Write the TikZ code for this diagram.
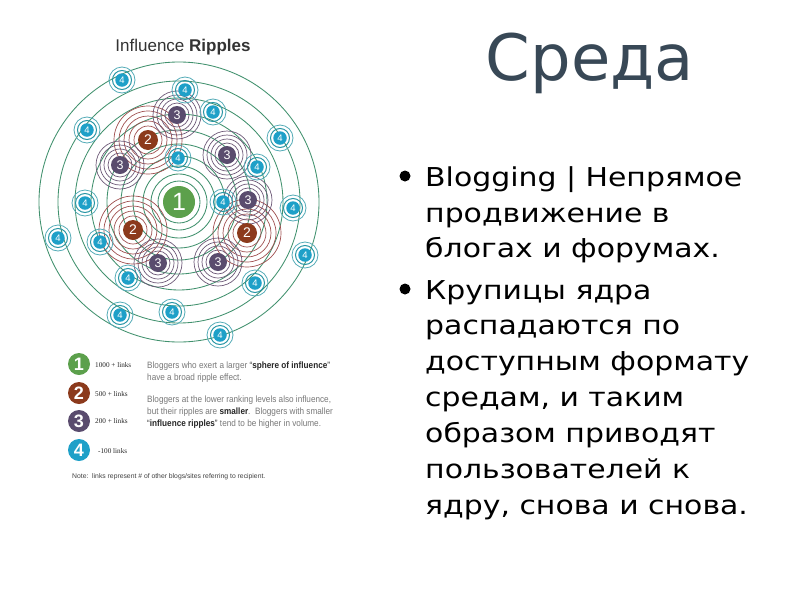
\documentclass[tikz,border=0pt]{standalone}
\usepackage{fontspec}
\setmainfont{DejaVu Sans}
\newfontfamily\bulletfont[FakeStretch=1.15]{DejaVu Sans}
\newfontfamily\lib{Liberation Sans}
\newfontfamily\libn[FakeStretch=0.89]{Liberation Sans}
\newfontfamily\libs{Liberation Serif}
\definecolor{cone}{RGB}{92,160,76}
\definecolor{ctwo}{RGB}{140,58,28}
\definecolor{cthree}{RGB}{90,76,110}
\definecolor{cfour}{RGB}{30,160,200}
\definecolor{ringg}{RGB}{65,145,110}
\definecolor{ringtwo}{RGB}{160,80,80}
\definecolor{ringthree}{RGB}{110,90,120}
\definecolor{ringfour}{RGB}{40,150,165}
\definecolor{titlec}{RGB}{56,72,86}
\definecolor{greytext}{RGB}{120,120,120}
\begin{document}
\begin{tikzpicture}[x=1pt,y=-1pt,
  ringG/.style={draw=ringg, line width=0.85pt},
  ringT/.style={draw=ringtwo, line width=0.7pt},
  ringH/.style={draw=ringthree, line width=0.7pt},
  ringFa/.style={draw=ringfour, line width=1pt},
  ringFb/.style={draw=ringfour!80, line width=0.8pt},
  nodeone/.style={circle, fill=cone, minimum size=32pt, inner sep=0pt, text=white, font=\lib\fontsize{25}{25}\selectfont},
  nodetwo/.style={circle, fill=ctwo, minimum size=20pt, inner sep=0pt, text=white, font=\lib\fontsize{14}{14}\selectfont},
  nodethree/.style={circle, fill=cthree, minimum size=18pt, inner sep=0pt, text=white, font=\lib\fontsize{12.5}{12.5}\selectfont},
  nodefour/.style={circle, fill=cfour, minimum size=13.5pt, inner sep=0pt, text=white, font=\lib\fontsize{9.5}{9.5}\selectfont},
  legc/.style={circle, minimum size=22pt, inner sep=0pt, text=white, font=\lib\bfseries\fontsize{18}{18}\selectfont},
  legl/.style={anchor=base west, inner sep=0pt, text=black!85, font=\libs\fontsize{7.2}{7.2}\selectfont},
  legt/.style={anchor=base west, inner sep=0pt, text=greytext, font=\libn\fontsize{9.2}{9.2}\selectfont},
  bl/.style={anchor=base west, inner sep=0pt, text=black, font=\bulletfont\fontsize{26}{26}\selectfont},
  bdot/.style={circle, fill=black, minimum size=11pt, inner sep=0pt}
]
\useasboundingbox (0,0) rectangle (800,600);
\fill[white] (0,0) rectangle (800,600);

% big green ripples around 1
\foreach \r in {21,28,36,46,58,72,88,104,121,140}
  \draw[ringG] (179,202) circle (\r pt);

% ripples of 2
\foreach \x/\y in {148/140,133/230,247/233}
  \foreach \r in {14,19,24,29,34}
    \draw[ringT] (\x,\y) circle (\r pt);

% ripples of 3
\foreach \x/\y in {177/115,120/165,227/155,248/200,158/263,218/262}
  \foreach \r in {12,16,20,24}
    \draw[ringH] (\x,\y) circle (\r pt);

% ripples of 4
\foreach \x/\y in {122/80,185/90,213/112,87/130,280/138,178/158,257/167,85/203,223/202,293/208,58/238,100/242,305/255,128/278,255/283,120/315,172/312,220/335}
{
  \draw[ringFa] (\x,\y) circle (9.5pt);
  \draw[ringFb] (\x,\y) circle (13pt);
}

% nodes
\foreach \x/\y [count=\i] in {122/80,185/90,213/112,87/130,280/138,178/158,257/167,85/203,223/202,293/208,58/238,100/242,305/255,128/278,255/283,120/315,172/312,220/335}
  \node[nodefour] (f\i) at (\x,\y) {4};
\foreach \x/\y [count=\i] in {177/115,120/165,227/155,248/200,158/263,218/262}
  \node[nodethree] (h\i) at (\x,\y) {3};
\foreach \x/\y [count=\i] in {148/140,133/230,247/233}
  \node[nodetwo] (t\i) at (\x,\y) {2};
\node[nodeone] (one) at (179,202) {1};

% diagram title
\node[anchor=base, inner sep=0pt, text=black!80, font=\lib\fontsize{17}{17}\selectfont] (dtitle) at (183,51) {Influence \textbf{Ripples}};

% legend
\node[legc, fill=cone] (lg1) at (79,364) {1};
\node[legc, fill=ctwo] (lg2) at (79,393) {2};
\node[legc, fill=cthree] (lg3) at (79,421) {3};
\node[legc, fill=cfour] (lg4) at (79,450) {4};
\node[legl] (ll1) at (95,367) {1000 + links};
\node[legl] (ll2) at (95,396) {500 + links};
\node[legl] (ll3) at (95,423) {200 + links};
\node[legl] (ll4) at (98,453) {-100 links};

\node[legt] (lt1) at (147,368) {Bloggers who exert a larger \textcolor{black!85}{“\textbf{sphere of influence}”}};
\node[legt] (lt2) at (147,380) {have a broad ripple effect.};
\node[legt] (lt3) at (147,402) {Bloggers at the lower ranking levels also influence,};
\node[legt] (lt4) at (147,414) {but their ripples are \textcolor{black!85}{\textbf{smaller}}.\ \ Bloggers with smaller};
\node[legt] (lt5) at (147,426) {\textcolor{black!85}{“\textbf{influence ripples}”} tend to be higher in volume.};
\node[anchor=base west, inner sep=0pt, text=black!75, font=\lib\fontsize{6.8}{6.8}\selectfont] (note) at (72,478) {Note:\ \ links represent \# of other blogs/sites referring to recipient.};

% slide title
\node[anchor=base, inner sep=0pt, text=titlec, font=\fontsize{64}{64}\selectfont] (title) at (590,80) {Среда};

% bullets
\node[bdot] (d1) at (405,176) {};
\node[bl] (b1) at (425,186) {Blogging | Непрямое};
\node[bl] (b2) at (425,222) {продвижение в};
\node[bl] (b3) at (425,257) {блогах и форумах.};
\node[bdot] (d2) at (405,289) {};
\node[bl] (b4) at (425,299) {Крупицы ядра};
\node[bl] (b5) at (425,334) {распадаются по};
\node[bl] (b6) at (425,370) {доступным формату};
\node[bl] (b7) at (425,406) {средам, и таким};
\node[bl] (b8) at (425,442) {образом приводят};
\node[bl] (b9) at (425,478) {пользователей к};
\node[bl] (b10) at (425,514) {ядру, снова и снова.};
\end{tikzpicture}
\end{document}
